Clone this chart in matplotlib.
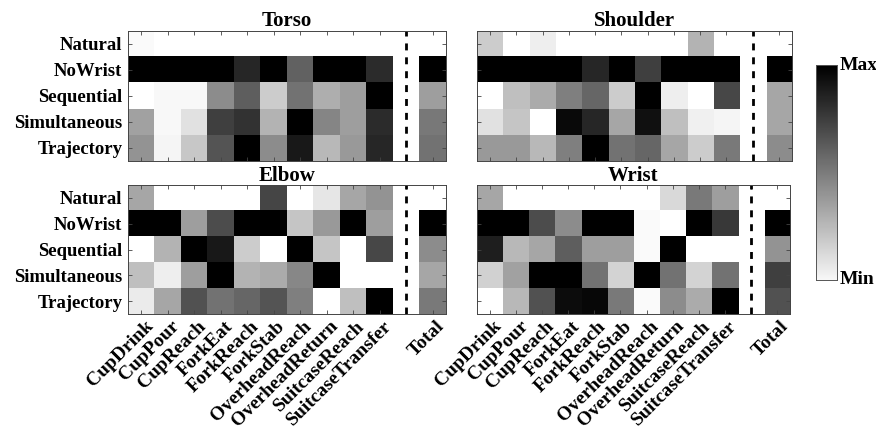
import numpy as np
import matplotlib
matplotlib.use('Agg')
import matplotlib.pyplot as plt
from matplotlib.transforms import ScaledTranslation

plt.rcParams['font.family'] = 'Liberation Serif'
plt.rcParams['font.weight'] = 'bold'

tasks = ['CupDrink', 'CupPour', 'CupReach', 'ForkEat', 'ForkReach', 'ForkStab',
         'OverheadReach', 'OverheadReturn', 'SuitcaseReach', 'SuitcaseTransfer']
conditions = ['Natural', 'NoWrist', 'Sequential', 'Simultaneous', 'Trajectory']

# normalised score (0 = min, 1 = max); last value of each row is the Total
torso = [
    [0.02, 0, 0, 0, 0, 0, 0, 0, 0, 0, 0],
    [1, 1, 1, 1, 0.85, 1, 0.62, 1, 1, 0.83, 1],
    [0, 0.03, 0.03, 0.45, 0.63, 0.2, 0.55, 0.32, 0.38, 1, 0.38],
    [0.37, 0.03, 0.12, 0.75, 0.8, 0.3, 1, 0.48, 0.38, 0.83, 0.53],
    [0.42, 0.04, 0.22, 0.67, 1, 0.45, 0.9, 0.28, 0.4, 0.85, 0.55],
]
shoulder = [
    [0.2, 0, 0.07, 0, 0, 0, 0, 0, 0.3, 0, 0],
    [1, 1, 1, 1, 0.85, 1, 0.75, 1, 1, 1, 1],
    [0, 0.25, 0.33, 0.5, 0.6, 0.2, 1, 0.07, 0, 0.72, 0.35],
    [0.12, 0.23, 0, 0.96, 0.85, 0.35, 0.93, 0.25, 0.06, 0.04, 0.35],
    [0.4, 0.4, 0.28, 0.5, 1, 0.55, 0.6, 0.35, 0.2, 0.52, 0.45],
]
elbow = [
    [0.35, 0, 0, 0, 0, 0.73, 0, 0.1, 0.35, 0.42, 0],
    [1, 1, 0.38, 0.7, 1, 1, 0.23, 0.4, 1, 0.38, 1],
    [0, 0.3, 1, 0.9, 0.2, 0, 1, 0.23, 0, 0.72, 0.45],
    [0.25, 0.07, 0.38, 1, 0.3, 0.33, 0.47, 1, 0, 0, 0.35],
    [0.08, 0.35, 0.68, 0.55, 0.6, 0.67, 0.5, 0, 0.25, 1, 0.52],
]
wrist = [
    [0.35, 0, 0, 0, 0, 0, 0, 0.15, 0.52, 0.38, 0],
    [1, 1, 0.7, 0.45, 1, 1, 0.02, 0, 1, 0.78, 1],
    [0.88, 0.28, 0.35, 0.63, 0.38, 0.38, 0.02, 1, 0, 0, 0.42],
    [0.18, 0.37, 1, 1, 0.55, 0.17, 1, 0.55, 0.17, 0.55, 0.75],
    [0, 0.28, 0.68, 0.95, 0.97, 0.52, 0.02, 0.45, 0.33, 1, 0.68],
]

W, H = 876, 432
fig = plt.figure(figsize=(W / 100, H / 100), dpi=100)

cmap = plt.get_cmap('gray_r').copy()
cmap.set_bad('white')

def px_axes(left, top, right, bottom):
    return fig.add_axes([left / W, 1 - bottom / H, (right - left) / W, (bottom - top) / H])

panels = [
    ('Torso', torso, (128, 31, 446, 161), True, False),
    ('Shoulder', shoulder, (477, 31, 792, 161), False, False),
    ('Elbow', elbow, (128, 185, 446, 314), True, True),
    ('Wrist', wrist, (477, 185, 790, 314), False, True),
]

# shift rotated labels so their ends sit just right of each tick
shift = ScaledTranslation(9 / 100, -4 / 100, fig.dpi_scale_trans)

xlabels = tasks + ['', 'Total']
for name, data, box, show_y, show_x in panels:
    arr = np.array(data, dtype=float)
    # insert an empty column before Total
    arr = np.insert(arr, len(tasks), np.nan, axis=1)
    ax = px_axes(*box)
    ax.imshow(np.ma.masked_invalid(arr), cmap=cmap, vmin=0, vmax=1,
              aspect='auto', interpolation='nearest')
    ax.axvline(len(tasks), color='black', linestyle=(0, (2.5, 2.5)), linewidth=2)
    ax.set_title(name, fontsize=15, fontweight='bold', pad=3)
    ax.set_xticks(range(len(xlabels)))
    ax.set_yticks(range(len(conditions)))
    ax.tick_params(direction='in', length=3, width=0.6, color='#444444',
                   top=True, right=True, pad=4)
    if show_x:
        ax.set_xticklabels(xlabels, rotation=45, ha='right', va='center',
                           rotation_mode='anchor', fontsize=14, fontweight='bold')
        for lbl in ax.get_xticklabels():
            lbl.set_transform(lbl.get_transform() + shift)
    else:
        ax.set_xticklabels([])
    if show_y:
        ax.set_yticklabels(conditions, fontsize=13.5, fontweight='bold')
    else:
        ax.set_yticklabels([])
    for s in ax.spines.values():
        s.set_color('#444444')
        s.set_linewidth(0.7)

# colorbar
cax = px_axes(816, 65, 837, 280)
grad = np.linspace(0.03, 1, 256).reshape(-1, 1)
cax.imshow(grad, cmap='gray_r', vmin=0, vmax=1, aspect='auto', origin='lower')
cax.set_xticks([])
cax.set_yticks([])
for s in cax.spines.values():
    s.set_color('#555555')
    s.set_linewidth(0.7)
cax.text(1.12, 1.0, 'Max', transform=cax.transAxes, fontsize=14, fontweight='bold',
         va='center', ha='left')
cax.text(1.12, 0.0, 'Min', transform=cax.transAxes, fontsize=14, fontweight='bold',
         va='center', ha='left')

fig.savefig('out.png', dpi=100)
